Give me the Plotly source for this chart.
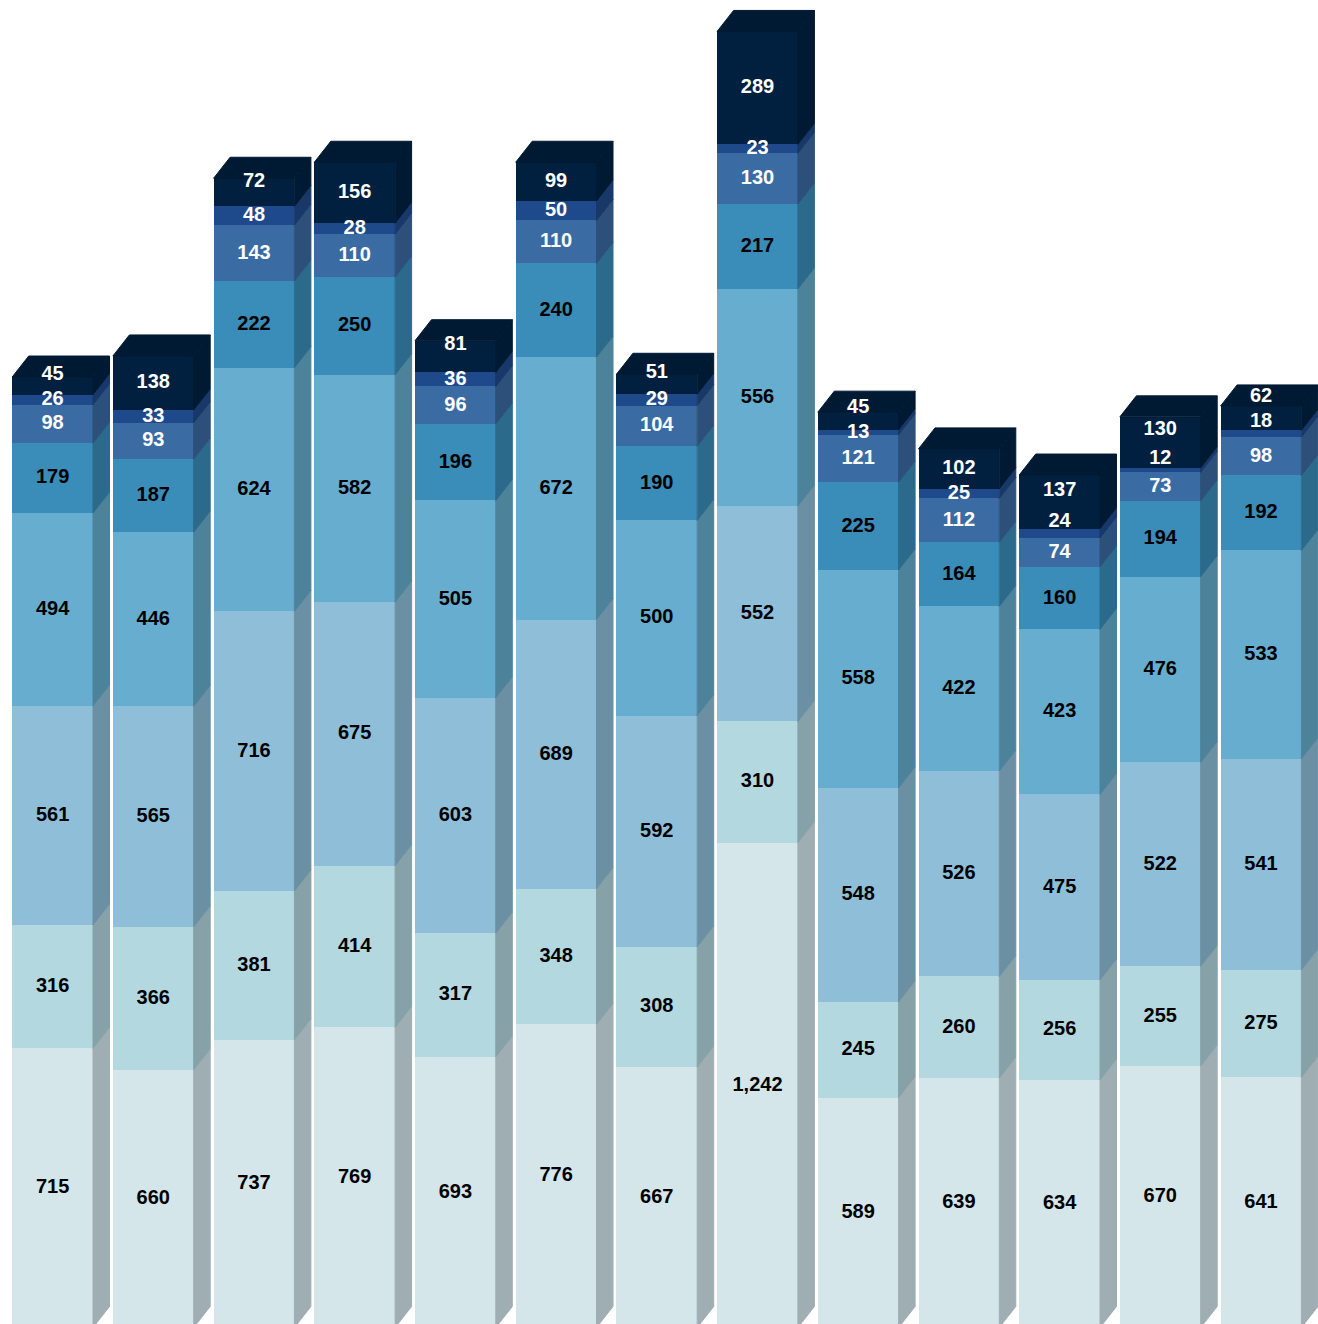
import plotly.graph_objects as go

columns = list(range(13))
s0 = [715, 660, 737, 769, 693, 776, 667, 1242, 589, 639, 634, 670, 641]
s1 = [316, 366, 381, 414, 317, 348, 308, 310, 245, 260, 256, 255, 275]
s2 = [561, 565, 716, 675, 603, 689, 592, 552, 548, 526, 475, 522, 541]
s3 = [494, 446, 624, 582, 505, 672, 500, 556, 558, 422, 423, 476, 533]
s4 = [179, 187, 222, 250, 196, 240, 190, 217, 225, 164, 160, 194, 192]
s5 = [98, 93, 143, 110, 96, 110, 104, 130, 121, 112, 74, 73, 98]
s6 = [26, 33, 48, 28, 36, 50, 29, 23, 13, 25, 24, 12, 18]
s7 = [45, 138, 72, 156, 81, 99, 51, 289, 45, 102, 137, 130, 62]
series = [s0, s1, s2, s3, s4, s5, s6, s7]

front = ["#D5E6EB", "#B3D8E0", "#8FBFD8", "#66ADCF", "#3A8CB9", "#3A6BA3", "#1E4A8C", "#01203F"]
side = ["#9FAEB3", "#86A2A8", "#6C90A3", "#4D829B", "#2C6A8B", "#2C507A", "#173869", "#011A33"]
top_colour = "#011A33"
label_colour = ["#000000"] * 5 + ["#FFFFFF"] * 3

W, H = 1318, 1324
STEP = 100.7
CENTRE0 = 52.6
BAR_PX = 80.8
DX_PX, DY_PX = 16.5, 21.0
BASE_PX = 1327.5
SCALE = 0.3905  # px per unit

# labels lifted by the original's collision avoidance (series index: px), by column
label_lift = {
    (0, 7): 11, (2, 7): 11, (4, 7): 12, (6, 7): 12, (8, 7): 13,
    (10, 7): 11, (10, 6): 12, (11, 7): 12.5, (11, 6): 11,
    (12, 7): 21.5, (12, 6): 12,
}

bw = BAR_PX / STEP
dx = DX_PX / STEP
dy = DY_PX / SCALE
LABEL_NUDGE = -0.5 / SCALE

fig = go.Figure()
for k, vals in enumerate(series):
    fig.add_trace(go.Bar(x=columns, y=vals, width=bw, marker=dict(color=front[k], line=dict(width=0)),
                         hoverinfo="skip", showlegend=False))

cum = [0] * len(columns)
lab_x, lab_y, lab_t, lab_c = [], [], [], []
for k, vals in enumerate(series):
    xs, ys = [], []
    for i, v in enumerate(vals):
        lo, hi = cum[i], cum[i] + v
        xr = columns[i] + bw / 2
        xs += [xr, xr + dx, xr + dx, xr, xr, None]
        ys += [lo, lo + dy, hi + dy, hi, lo, None]
        lab_x.append(columns[i])
        lab_y.append((lo + hi) / 2 + LABEL_NUDGE + label_lift.get((i, k), 0) / SCALE)
        lab_t.append(f"{v:,}")
        lab_c.append(label_colour[k])
        cum[i] = hi
    fig.add_trace(go.Scatter(x=xs, y=ys, mode="lines", fill="toself", fillcolor=side[k],
                             line=dict(width=1, color=side[k]), hoverinfo="skip", showlegend=False))

xs, ys = [], []
for i, h in enumerate(cum):
    xl, xr = columns[i] - bw / 2, columns[i] + bw / 2
    xs += [xl, xl + dx, xr + dx, xr, xl, None]
    ys += [h, h + dy, h + dy, h, h, None]
fig.add_trace(go.Scatter(x=xs, y=ys, mode="lines", fill="toself", fillcolor=top_colour,
                         line=dict(width=1, color=top_colour), hoverinfo="skip", showlegend=False))

fig.add_trace(go.Scatter(x=lab_x, y=lab_y, text=lab_t, mode="text", textposition="middle center",
                         textfont=dict(family="Liberation Sans", size=20, color=lab_c, weight="bold"),
                         hoverinfo="skip", showlegend=False))

fig.update_layout(
    width=W, height=H, margin=dict(l=0, r=0, t=0, b=0), barmode="stack", bargap=0,
    paper_bgcolor="#FFFFFF", plot_bgcolor="#FFFFFF",
    xaxis=dict(range=[-CENTRE0 / STEP, (W - CENTRE0) / STEP], visible=False),
    yaxis=dict(range=[(BASE_PX - H) / SCALE, BASE_PX / SCALE], visible=False),
)
fig.write_html("out.html", config={"displayModeBar": False},
               post_script="document.body.style.margin='0';document.documentElement.style.overflow='hidden';")
